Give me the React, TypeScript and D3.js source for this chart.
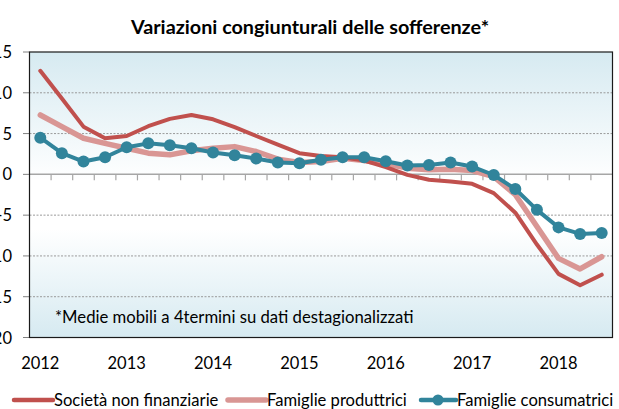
import React from "react";
import * as d3 from "d3";

const quarters = d3.range(27).map((i) => `${2012 + Math.floor(i / 4)}Q${(i % 4) + 1}`);
const yearLabels = ["2012", "2013", "2014", "2015", "2016", "2017", "2018"];
const yTicks = [15, 10, 5, 0, -5, -10, -15, -20];

const societa = [12.7, 9.3, 5.85, 4.43, 4.7, 5.9, 6.8, 7.28, 6.75, 5.78, 4.7, 3.65, 2.6, 2.26, 2.1, 1.7, 0.88, -0.06, -0.67, -0.88, -1.16, -2.3, -4.7, -8.6, -12.2, -13.6, -12.3];
const produttrici = [7.28, 5.85, 4.43, 3.8, 3.2, 2.6, 2.39, 2.9, 3.2, 3.4, 2.8, 1.86, 1.45, 1.57, 1.98, 1.7, 1.28, 0.76, 0.55, 0.63, 0.47, -0.27, -2.5, -6.4, -10.3, -11.6, -10.1];
const consumatrici = [4.5, 2.6, 1.57, 2.1, 3.33, 3.8, 3.57, 3.2, 2.67, 2.35, 1.94, 1.45, 1.37, 1.8, 2.1, 2.1, 1.6, 1.08, 1.16, 1.45, 0.96, -0.08, -1.8, -4.35, -6.5, -7.3, -7.2];

const seriesNames = ["Società non finanziarie", "Famiglie produttrici", "Famiglie consumatrici"];
const colors = ["#c0504d", "#d99694", "#31849b"];

const FONT = "Lato, 'Open Sans', sans-serif";

export default function App() {
  const W = 619, H = 409;
  const left = 29.5, right = 612.5, top = 52, bottom = 337.5;
  const x = d3.scaleBand<string>().domain(quarters).range([left, right]).padding(0);
  const y = d3.scaleLinear().domain([-20, 15]).range([bottom, top]);
  const cx = (i: number) => (x(quarters[i]) as number) + x.bandwidth() / 2;
  const line = d3.line<number>().x((_, i) => cx(i)).y((d) => y(d));
  const y0 = y(0);

  return (
    <svg width={W} height={H} style={{ position: "absolute", left: 0, top: 0, background: "#fff" }} fontFamily={FONT}>
      <defs>
        <linearGradient id="bg" x1="0" y1="0" x2="0" y2="1">
          <stop offset="0%" stopColor="#d6eaf1" />
          <stop offset="45%" stopColor="#ffffff" />
          <stop offset="62%" stopColor="#ffffff" />
          <stop offset="100%" stopColor="#d6eaf1" />
        </linearGradient>
      </defs>
      <text x={310} y={34} textAnchor="middle" fontSize={19.8} fontWeight="bold" fill="#000">
        Variazioni congiunturali delle sofferenze*
      </text>
      <rect x={left} y={top} width={right - left} height={bottom - top} fill="url(#bg)" />
      {yTicks.filter((t) => t !== 0 && t !== 15 && t !== -20).map((t) => (
        <line key={t} x1={left} x2={right} y1={y(t)} y2={y(t)} stroke="#9a9a9a" strokeWidth={1} strokeDasharray="2,1.5" />
      ))}
      <line x1={left} x2={right} y1={y0} y2={y0} stroke="#a6a6a6" strokeWidth={1.5} />
      {quarters.slice(1).map((q) => (
        <line key={q} x1={x(q) as number} x2={x(q) as number} y1={y0} y2={y0 + 6} stroke="#a6a6a6" strokeWidth={1.2} />
      ))}
      {yTicks.map((t) => (
        <g key={t}>
          <line x1={left - 6.5} x2={left} y1={y(t)} y2={y(t)} stroke="#808080" strokeWidth={1} />
          <text x={12} y={y(t) + 6} textAnchor="end" fontSize={16.5} fill="#000">{t}</text>
        </g>
      ))}
      <rect x={left} y={top} width={right - left} height={bottom - top} fill="none" stroke="#1a1a1a" strokeWidth={1.2} />
      <text x={55} y={323} fontSize={16.7} fill="#000">*Medie mobili a 4termini su dati destagionalizzati</text>
      {yearLabels.map((yl, k) => (
        <text key={yl} x={cx(k * 4)} y={368.5} textAnchor="middle" fontSize={16.5} fill="#000">{yl}</text>
      ))}
      <path d={line(produttrici) as string} fill="none" stroke={colors[1]} strokeWidth={5.5} strokeLinejoin="round" strokeLinecap="round" />
      <path d={line(societa) as string} fill="none" stroke={colors[0]} strokeWidth={4} strokeLinejoin="round" strokeLinecap="round" />
      <path d={line(consumatrici) as string} fill="none" stroke={colors[2]} strokeWidth={4} strokeLinejoin="round" strokeLinecap="round" />
      {consumatrici.map((v, i) => (
        <circle key={i} cx={cx(i)} cy={y(v)} r={6} fill={colors[2]} />
      ))}
      {/* legend */}
      <g fontSize={16.6}>
        <line x1={14} x2={53} y1={400} y2={400} stroke={colors[0]} strokeWidth={4.5} strokeLinecap="round" />
        <text x={54} y={406} fill="#000">{seriesNames[0]}</text>
        <line x1={228} x2={266} y1={400} y2={400} stroke={colors[1]} strokeWidth={5.5} strokeLinecap="round" />
        <text x={267} y={406} fill="#000">{seriesNames[1]}</text>
        <line x1={421} x2={456} y1={400} y2={400} stroke={colors[2]} strokeWidth={4.5} strokeLinecap="round" />
        <circle cx={438} cy={400} r={5.5} fill={colors[2]} />
        <text x={457} y={406} fill="#000">{seriesNames[2]}</text>
      </g>
    </svg>
  );
}
